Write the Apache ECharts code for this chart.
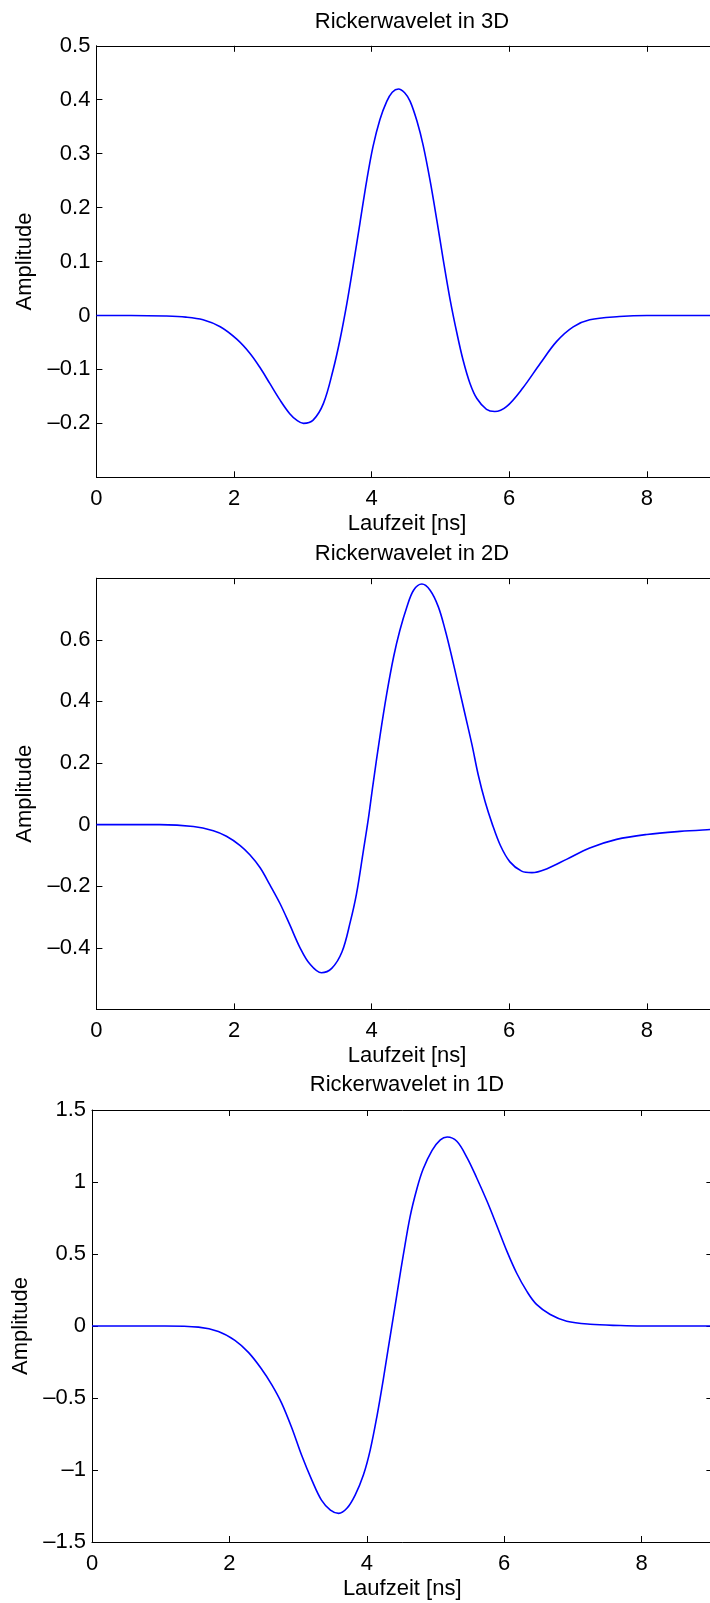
<!DOCTYPE html>
<html>
<head>
<meta charset="utf-8">
<script src="https://cdn.jsdelivr.net/npm/echarts@6/dist/echarts.min.js"></script>
<style>
html,body{margin:0;padding:0;background:#fff;overflow:hidden;width:710px;height:1603px;}
#chart{width:730px;height:1603px;}
</style>
</head>
<body>
<div id="chart"></div>
<script>
// ---- Data ----
const titles = ['Rickerwavelet in 3D', 'Rickerwavelet in 2D', 'Rickerwavelet in 1D'];
const xLabel = 'Laufzeit [ns]';
const yLabel = 'Amplitude';

const t3D = [0, 0.5, 1.0, 1.3, 1.55, 1.8, 2.04, 2.23, 2.38, 2.52, 2.67, 2.81, 2.92, 3.01, 3.15, 3.30, 3.44, 3.54, 3.64, 3.73, 3.83, 3.93, 4.02, 4.12, 4.22, 4.30, 4.39, 4.48, 4.56, 4.66, 4.75, 4.85, 4.95, 5.04, 5.14, 5.24, 5.33, 5.43, 5.53, 5.67, 5.79, 5.96, 6.20, 6.45, 6.69, 6.93, 7.17, 7.6, 8.0, 8.5, 9.03];
const a3D = [0, 0, -0.001, -0.003, -0.008, -0.021, -0.044, -0.070, -0.097, -0.126, -0.157, -0.182, -0.195, -0.200, -0.194, -0.163, -0.101, -0.045, 0.022, 0.091, 0.171, 0.251, 0.313, 0.363, 0.397, 0.414, 0.420, 0.413, 0.397, 0.360, 0.315, 0.250, 0.175, 0.104, 0.030, -0.033, -0.083, -0.126, -0.154, -0.174, -0.178, -0.169, -0.134, -0.089, -0.048, -0.021, -0.008, -0.002, 0, 0, 0];

const t2D = [0, 0.5, 0.92, 1.41, 1.70, 1.89, 2.09, 2.23, 2.38, 2.52, 2.67, 2.81, 2.96, 3.10, 3.27, 3.42, 3.57, 3.69, 3.78, 3.88, 3.95, 4.02, 4.12, 4.22, 4.32, 4.41, 4.51, 4.61, 4.73, 4.85, 4.97, 5.07, 5.16, 5.26, 5.36, 5.46, 5.55, 5.65, 5.75, 5.87, 6.01, 6.18, 6.33, 6.55, 6.84, 7.17, 7.56, 8.0, 8.48, 8.92, 9.03];
const a2D = [0, 0, 0, -0.006, -0.020, -0.038, -0.068, -0.098, -0.140, -0.195, -0.257, -0.325, -0.400, -0.452, -0.481, -0.467, -0.413, -0.316, -0.225, -0.085, 0.015, 0.130, 0.285, 0.425, 0.545, 0.630, 0.705, 0.761, 0.781, 0.761, 0.707, 0.631, 0.550, 0.453, 0.356, 0.258, 0.161, 0.074, 0.004, -0.067, -0.121, -0.151, -0.156, -0.143, -0.112, -0.076, -0.048, -0.032, -0.022, -0.016, -0.015];

const t1D = [0, 0.5, 1.06, 1.55, 1.84, 2.08, 2.28, 2.47, 2.62, 2.76, 2.91, 3.05, 3.20, 3.34, 3.47, 3.59, 3.71, 3.83, 3.95, 4.05, 4.15, 4.24, 4.31, 4.39, 4.46, 4.53, 4.63, 4.73, 4.82, 4.95, 5.07, 5.17, 5.31, 5.46, 5.60, 5.75, 5.89, 6.04, 6.18, 6.33, 6.47, 6.67, 6.91, 7.25, 7.69, 8.0, 8.5, 9.03];
const a1D = [0, 0, 0, -0.008, -0.038, -0.100, -0.185, -0.300, -0.410, -0.535, -0.710, -0.896, -1.070, -1.209, -1.278, -1.301, -1.266, -1.174, -1.035, -0.860, -0.620, -0.370, -0.160, 0.075, 0.285, 0.490, 0.760, 0.955, 1.090, 1.220, 1.293, 1.313, 1.283, 1.168, 1.028, 0.866, 0.700, 0.518, 0.368, 0.240, 0.150, 0.080, 0.033, 0.012, 0.003, 0, 0, 0];

const xMin = 0, xMax = 9.03, xStep = 2;
const yRanges = [
  {min: -0.3, max: 0.5, interval: 0.1, hideMin: true, hideMax: false},
  {min: -0.6, max: 0.8, interval: 0.2, hideMin: true, hideMax: true},
  {min: -1.5, max: 1.5, interval: 0.5, hideMin: false, hideMax: false}
];

// ---- Layout / style ----
const FONT = '"Liberation Sans", Arial, Helvetica, sans-serif';
const FS = 22;
const grids = [
  {left: 96.4, top: 45.8, width: 621.3, height: 431.5},
  {left: 96.4, top: 578.2, width: 621.3, height: 431.2},
  {left: 92, top: 1110, width: 620.4, height: 432}
];
const titleCenterX = [407, 407, 402];
const titleY = [6, 538, 1069];

function fmtNum(v) {
  const r = Math.round(v * 1000) / 1000;
  if (r === 0) return '0';
  return (r < 0 ? '\u2013' : '') + String(Math.abs(r));
}

const series = [[t3D, a3D], [t2D, a2D], [t1D, a1D]];
const option = {
  animation: false,
  backgroundColor: '#ffffff',
  textStyle: {fontFamily: FONT},
  title: [], grid: [], xAxis: [], yAxis: [], series: []
};

function axisLine() { return {show: true, onZero: false, lineStyle: {color: '#000', width: 1}}; }
function axisTick() { return {show: true, inside: true, length: 6, lineStyle: {color: '#000', width: 1}}; }

grids.forEach((g, i) => {
  option.grid.push(Object.assign({containLabel: false}, g));
  option.title.push({
    text: titles[i], left: titleCenterX[i], top: titleY[i], textAlign: 'center',
    textStyle: {fontFamily: FONT, fontSize: FS, fontWeight: 'normal', color: '#000'}
  });
  const yr = yRanges[i];
  // bottom x axis
  option.xAxis.push({
    type: 'value', gridIndex: i, position: 'bottom', min: xMin, max: xMax, interval: xStep,
    name: xLabel, nameLocation: 'middle', nameGap: 36,
    nameTextStyle: {fontFamily: FONT, fontSize: FS, color: '#000'},
    axisLine: axisLine(), axisTick: axisTick(),
    splitLine: {show: false},
    axisLabel: {fontFamily: FONT, fontSize: FS, color: '#000', margin: 11, showMaxLabel: false,
      formatter: fmtNum}
  });
  // top x axis (box)
  option.xAxis.push({
    type: 'value', gridIndex: i, position: 'top', min: xMin, max: xMax, interval: xStep,
    axisLine: axisLine(), axisTick: axisTick(),
    splitLine: {show: false}, axisLabel: {show: false}
  });
  // left y axis
  option.yAxis.push({
    type: 'value', gridIndex: i, position: 'left', min: yr.min, max: yr.max, interval: yr.interval,
    name: yLabel, nameLocation: 'middle', nameGap: 60,
    nameTextStyle: {fontFamily: FONT, fontSize: FS, color: '#000'},
    axisLine: axisLine(), axisTick: axisTick(), splitLine: {show: false},
    axisLabel: {fontFamily: FONT, fontSize: FS, color: '#000', margin: 6,
      showMinLabel: !yr.hideMin, showMaxLabel: !yr.hideMax, formatter: fmtNum}
  });
  // right y axis (box)
  option.yAxis.push({
    type: 'value', gridIndex: i, position: 'right', min: yr.min, max: yr.max, interval: yr.interval,
    axisLine: axisLine(), axisTick: axisTick(), splitLine: {show: false}, axisLabel: {show: false}
  });
  const [ts, as] = series[i];
  option.series.push({
    type: 'line', xAxisIndex: 2 * i, yAxisIndex: 2 * i,
    data: ts.map((t, k) => [t, as[k]]),
    showSymbol: false, smooth: 0.35,
    lineStyle: {color: '#0000ff', width: 1.6},
    itemStyle: {color: '#0000ff'}
  });
});

const chart = echarts.init(document.getElementById('chart'), null, {renderer: 'canvas'});
chart.setOption(option);
</script>
</body>
</html>
